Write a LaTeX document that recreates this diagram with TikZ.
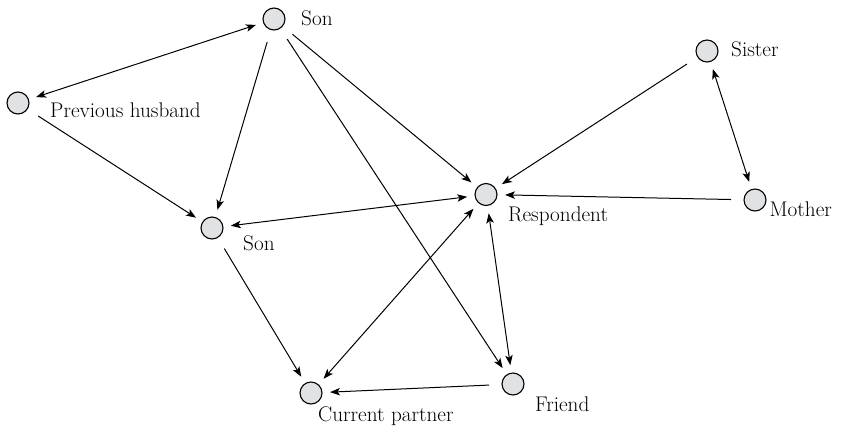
\documentclass[tikz,border=0pt]{standalone}
\usepackage{fontspec}
\usetikzlibrary{arrows.meta}
\definecolor{nodegray}{HTML}{E1E2E4}
\begin{document}
\begin{tikzpicture}[x=1pt,y=-1pt,
  person/.style={circle,draw=black,fill=nodegray,line width=1.1pt,
    minimum size=22pt,inner sep=0pt,outer sep=8pt},
  personlabel/.style={anchor=base west,inner sep=0pt,font=\fontsize{21.2}{24}\selectfont},
  link/.style={line width=1pt,-{Stealth[length=10pt,width=7.5pt,inset=2.5pt]}},
  both/.style={line width=1pt,{Stealth[length=10pt,width=7.5pt,inset=2.5pt]}-{Stealth[length=10pt,width=7.5pt,inset=2.5pt]}},
  tail/.style={shorten <=5pt}]
\useasboundingbox (0,0) rectangle (843,432);

% people
\node[person] (sonA)    at (274,19)    {};
\node[person] (prev)    at (18,103)    {};
\node[person] (sonB)    at (212,228)   {};
\node[person] (resp)    at (486,194.5) {};
\node[person] (sister)  at (707,51)    {};
\node[person] (mother)  at (755,200)   {};
\node[person] (partner) at (311,393)   {};
\node[person] (friend)  at (513,384)   {};

% names
\node[personlabel] (lsonA)    at (301,25)    {Son};
\node[personlabel] (lprev)    at (50,117)    {Previous husband};
\node[personlabel] (lsonB)    at (243,250)   {Son};
\node[personlabel] (lresp)    at (508,221.5) {Respondent};
\node[personlabel] (lsister)  at (731,56.5)  {Sister};
\node[personlabel] (lmother)  at (769.5,216.7) {Mother};
\node[personlabel] (lpartner) at (318,421.5) {Current partner};
\node[personlabel] (lfriend)  at (535,411.7) {Friend};

% ties
\draw[both] (sonA) -- (prev);
\draw[link,tail] (prev) -- (sonB);
\draw[link,tail] (sonA) -- (sonB);
\draw[link,tail] (sonA) -- (resp);
\draw[link,tail] (sonA) -- (friend);
\draw[both] (sonB) -- (resp);
\draw[link,tail] (sonB) -- (partner);
\draw[both] (resp) -- (partner);
\draw[both] (resp) -- (friend);
\draw[link,tail] (friend) -- (partner);
\draw[link,tail] (sister) -- (resp);
\draw[link,tail] (mother) -- (resp);
\draw[both] (sister) -- (mother);
\end{tikzpicture}
\end{document}
